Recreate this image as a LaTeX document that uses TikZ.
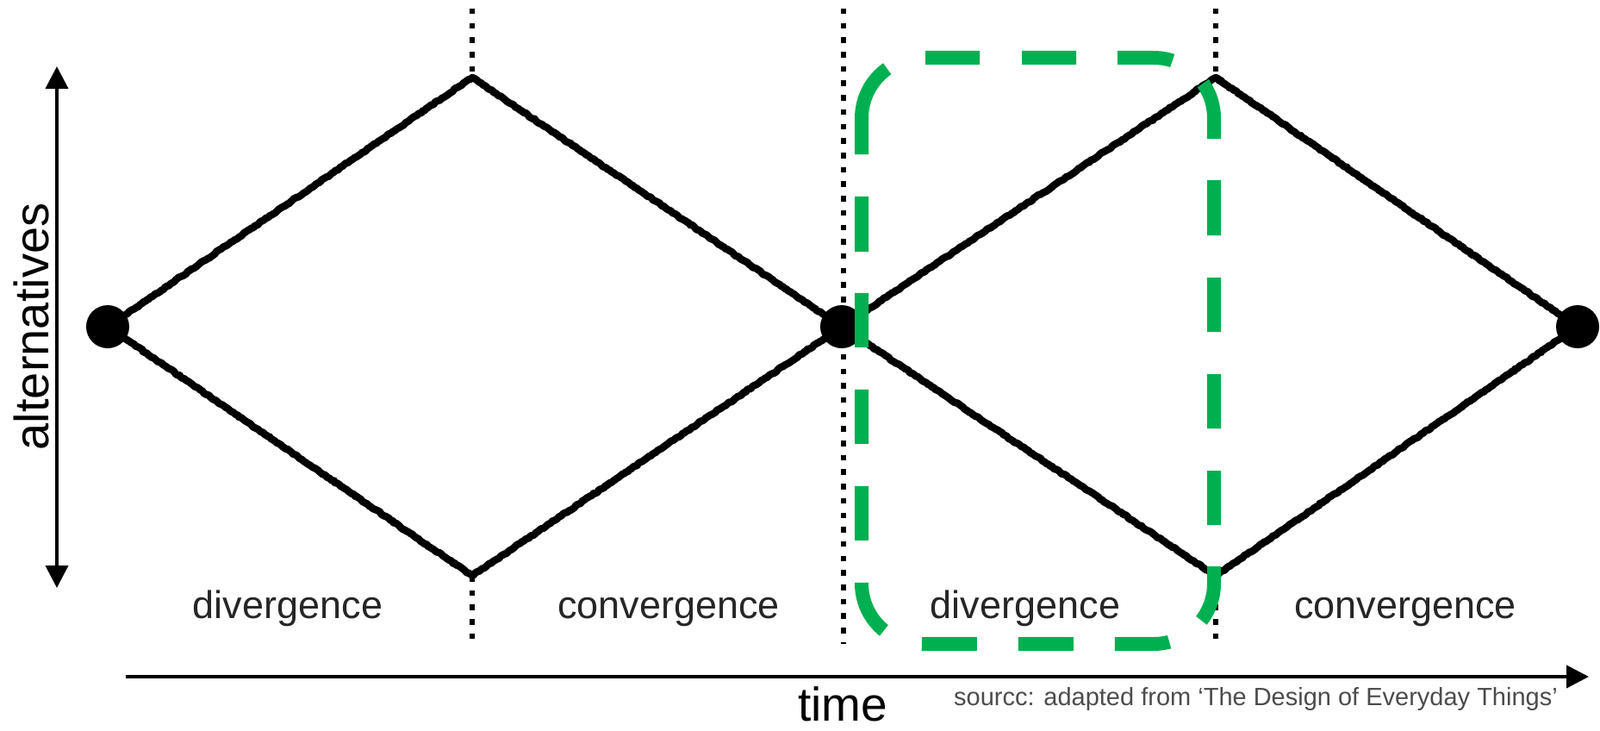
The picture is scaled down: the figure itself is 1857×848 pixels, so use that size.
\documentclass[tikz,border=0pt]{standalone}
\usepackage{fontspec}
\setmainfont{Liberation Sans}
\usetikzlibrary{arrows.meta,decorations.pathmorphing}
\definecolor{boxgreen}{RGB}{0,176,80}
\begin{document}
\begin{tikzpicture}[x=1pt,y=-1pt,
  dotnode/.style={circle,fill=black,minimum size=50pt,inner sep=0pt},
  rough/.style={line width=8.5pt,line join=round,line cap=round,decorate,
    decoration={random steps,segment length=2.5pt,amplitude=0.8pt}},
  guide/.style={line width=6.5pt,dash pattern=on 6.5pt off 10.2pt},
  axisline/.style={line width=4pt,-{Triangle[length=26pt,width=26pt]}},
  biaxis/.style={line width=4pt,{Triangle[length=26pt,width=26pt]}-{Triangle[length=26pt,width=26pt]}},
  lab/.style={font=\fontsize{45}{50}\selectfont,text=black!85,anchor=base,inner sep=0pt},
  hl/.style={draw=boxgreen,line width=16pt,rounded corners=70pt,
    dash pattern=on 109pt off 47pt on 63pt off 49pt on 63pt off 48pt on 64pt off 45pt
      on 67pt off 48pt on 64pt off 49pt on 63pt off 49pt on 63pt off 49pt on 63pt off 48pt
      on 66pt off 45.6pt on 63.4pt off 48pt on 64pt off 48pt on 64pt off 47.6pt
      on 63.4pt off 49pt on 63pt off 49pt on 63pt off 49pt on 63pt off 48pt on 64pt off 49pt}
]
\useasboundingbox (0,0) rectangle (1857,848);

% vertices
\coordinate (T1) at (548,90);
\coordinate (B1) at (548,668);
\coordinate (T2) at (1411,90);
\coordinate (B2) at (1411,668);

% guide end points
\coordinate (g1a) at (548,10);
\coordinate (g1b) at (548,747);
\coordinate (g2a) at (979,10);
\coordinate (g2b) at (979,747);
\coordinate (g3a) at (1411,10);
\coordinate (g3b) at (1411,747);

% dotted guides
\draw[guide] (g1a) -- (T1);
\draw[guide] (B1) -- (g1b);
\draw[guide] (g2a) -- (g2b);
\draw[guide] (g3a) -- (T2);
\draw[guide] (B2) -- (g3b);

% dots
\node[dotnode] (L) at (125,379) {};
\node[dotnode] (M) at (977,379) {};
\node[dotnode] (R) at (1831,379) {};

% diamonds
\draw[rough] (L) -- (T1) -- (M);
\draw[rough] (L) -- (B1) -- (M);
\draw[rough] (M) -- (T2) -- (R);
\draw[rough] (M) -- (B2) -- (R);

% axes
\coordinate (vtop) at (66,77);
\coordinate (vbot) at (66,682);
\draw[biaxis] (vbot) -- (vtop);
\coordinate (hstart) at (146,785);
\coordinate (hend) at (1844,785);
\draw[axisline] (hstart) -- (hend);

% green highlight
\draw[hl] (1000,179) -- (1000,67) -- (1409,67) -- (1409,747) -- (1000,747) -- (1000,179);

% labels
\node[lab] (d1) at (334,717) {divergence};
\node[lab] (c1) at (776,717) {convergence};
\node[lab] (d2) at (1190,717) {divergence};
\node[lab] (c2) at (1631,717) {convergence};
\node[font=\fontsize{56}{60}\selectfont,anchor=base,inner sep=0pt,rotate=90] (alt) at (56,379) {alternatives};
\node[font=\fontsize{55}{60}\selectfont,anchor=base,inner sep=0pt] (time) at (978,836) {time};
\node[font=\fontsize{29}{32}\selectfont,text=black!70,anchor=base west,inner sep=0pt] (src) at (1107,818) {sourcc: adapted from ‘The Design of Everyday Things’};
\end{tikzpicture}
\end{document}
